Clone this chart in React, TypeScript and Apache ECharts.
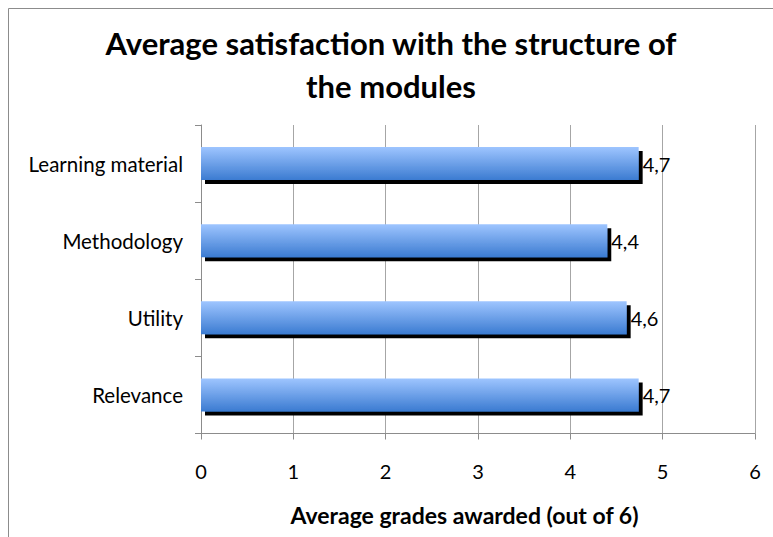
import React, { useEffect, useRef } from "react";
import * as echarts from "echarts";

const titleText = "Average satisfaction with the structure of\nthe modules";
const xAxisName = "Average grades awarded (out of 6)";
const categories = ["Relevance", "Utility", "Methodology", "Learning material"];
const values = [4.74, 4.61, 4.4, 4.74];
const xTicks = [0, 1, 2, 3, 4, 5, 6];

const FONT = "Lato, 'Open Sans', sans-serif";

export default function App() {
  const ref = useRef<HTMLDivElement>(null);
  useEffect(() => {
    if (!ref.current) return;
    const chart = echarts.init(ref.current, null, { renderer: "svg" });
    chart.setOption({
      animation: false,
      backgroundColor: "#ffffff",
      textStyle: { fontFamily: FONT },
      title: {
        text: titleText,
        left: 391,
        textAlign: "center",
        top: 21,
        padding: 0,
        textStyle: {
          fontFamily: FONT,
          fontSize: 31,
          fontWeight: "bold",
          color: "#000",
          lineHeight: 43,
        },
      },
      graphic: [
        {
          type: "rect",
          shape: { x: 8.5, y: 8.5, width: 900, height: 700 },
          style: { fill: "none", stroke: "#8c8c8c", lineWidth: 1 },
          silent: true,
          z: -1,
        },
      ],
      grid: { left: 201, right: 18, top: 125, bottom: 103.5, containLabel: false },
      xAxis: {
        type: "value",
        min: xTicks[0],
        max: xTicks[xTicks.length - 1],
        interval: 1,
        name: xAxisName,
        nameLocation: "middle",
        nameGap: 70,
        nameTextStyle: {
          fontFamily: FONT,
          fontSize: 23,
          fontWeight: "bold",
          color: "#000",
          padding: [0, 27, 0, 0],
        },
        axisLine: { show: true, lineStyle: { color: "#8c8c8c", width: 1 } },
        axisTick: { show: true, length: 6, lineStyle: { color: "#8c8c8c" } },
        axisLabel: { margin: 27, fontFamily: FONT, fontSize: 20, color: "#000", formatter: (v: number) => String(v) },
        splitLine: { show: true, lineStyle: { color: "#a6a6a6", width: 1 } },
      },
      yAxis: {
        type: "category",
        data: categories,
        axisLine: { show: true, lineStyle: { color: "#8c8c8c", width: 1 } },
        axisTick: { show: true, length: 6, lineStyle: { color: "#8c8c8c" } },
        axisLabel: { margin: 18, fontFamily: FONT, fontSize: 20.5, color: "#000" },
        splitLine: { show: false },
      },
      series: [
        {
          type: "bar",
          data: values,
          barWidth: 33,
          itemStyle: {
            color: new echarts.graphic.LinearGradient(0, 0, 0, 1, [
              { offset: 0, color: "#9ec5ff" },
              { offset: 1, color: "#3b7bd1" },
            ]),
            shadowColor: "#000",
            shadowBlur: 0,
            shadowOffsetX: 4,
            shadowOffsetY: 4,
          },
          label: {
            show: true,
            position: "right",
            distance: 4,
            fontFamily: FONT,
            fontSize: 20,
            color: "#000",
            formatter: (p: any) => Number(p.value).toFixed(1).replace(".", ","),
          },
        },
      ],
    });
    return () => chart.dispose();
  }, []);
  return (
    <div
      ref={ref}
      style={{ position: "fixed", left: 0, top: 0, width: 773, height: 537 }}
    />
  );
}
